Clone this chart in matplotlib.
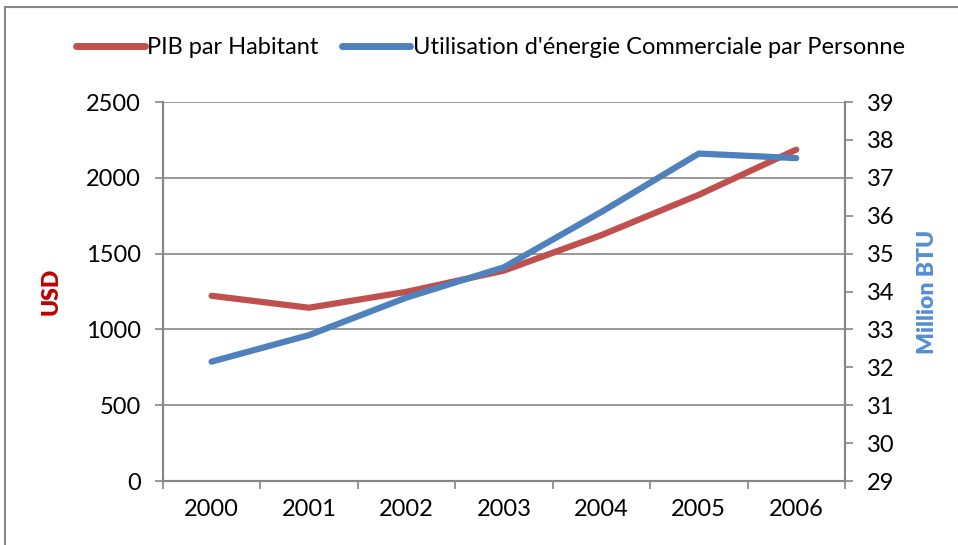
import matplotlib
matplotlib.use("Agg")
import matplotlib.pyplot as plt
from matplotlib.patches import Rectangle

# Data
years = ["2000", "2001", "2002", "2003", "2004", "2005", "2006"]
pib = [1222, 1143, 1248, 1388, 1622, 1888, 2186]
energie = [32.15, 32.85, 33.84, 34.64, 36.1, 37.64, 37.52]

RED = "#C0504D"
BLUE = "#4F81BD"
GRID = "#868686"

plt.rcParams["font.family"] = ["Lato", "DejaVu Sans"]

fig = plt.figure(figsize=(9.58, 5.45), dpi=100)
ax = fig.add_axes([0.170, 0.1174, 0.712, 0.6954])
ax2 = ax.twinx()

x = list(range(len(years)))
l1, = ax.plot(x, pib, color=RED, lw=4.5, solid_capstyle="round", label="PIB par Habitant")
l2, = ax2.plot(x, energie, color=BLUE, lw=4.5, solid_capstyle="round",
               label="Utilisation d'énergie Commerciale par Personne")

# left axis
ax.set_ylim(0, 2500)
ax.set_yticks(range(0, 2501, 500))
ax.set_xlim(-0.5, 6.5)
ax.set_xticks(x)
ax.set_xticklabels(years)
ax.set_xticks([i - 0.5 for i in range(8)], minor=True)
ax.tick_params(axis="x", which="major", length=0, pad=13, labelsize=17)
ax.tick_params(axis="x", which="minor", length=6, color=GRID, width=1.2)
ax.tick_params(axis="y", length=6, color=GRID, width=1.2, labelsize=17, pad=10)
ax.grid(axis="y", color=GRID, lw=1.2)
ax.set_axisbelow(True)

# right axis
ax2.set_ylim(29, 39)
ax2.set_yticks(range(29, 40))
ax2.tick_params(axis="y", length=6, color=GRID, width=1.2, labelsize=17, pad=10)

for a in (ax, ax2):
    a.spines["top"].set_visible(False)
    for s in ("left", "right", "bottom"):
        a.spines[s].set_color(GRID)
        a.spines[s].set_linewidth(1.5)

ax.set_ylabel("USD", color="#C00000", fontsize=16.5, fontweight="heavy", labelpad=17)
ax2.set_ylabel("Million BTU", color="#558ED5", fontsize=16.5, fontweight="heavy", labelpad=16)

leg = fig.legend(handles=[l1, l2], loc="center", bbox_to_anchor=(0.512, 0.913), ncol=2,
                 frameon=False, fontsize=17, handlelength=2.9, handletextpad=0.1,
                 columnspacing=1.0)
for h in leg.legend_handles:
    h.set_linewidth(5)

# chart area border
fig.patches.append(Rectangle((5 / 958, -0.05), 1.2, 1 - 7 / 545 + 0.05,
                             transform=fig.transFigure, fill=False,
                             edgecolor=GRID, lw=1.5))

fig.savefig("out.png", dpi=100)
